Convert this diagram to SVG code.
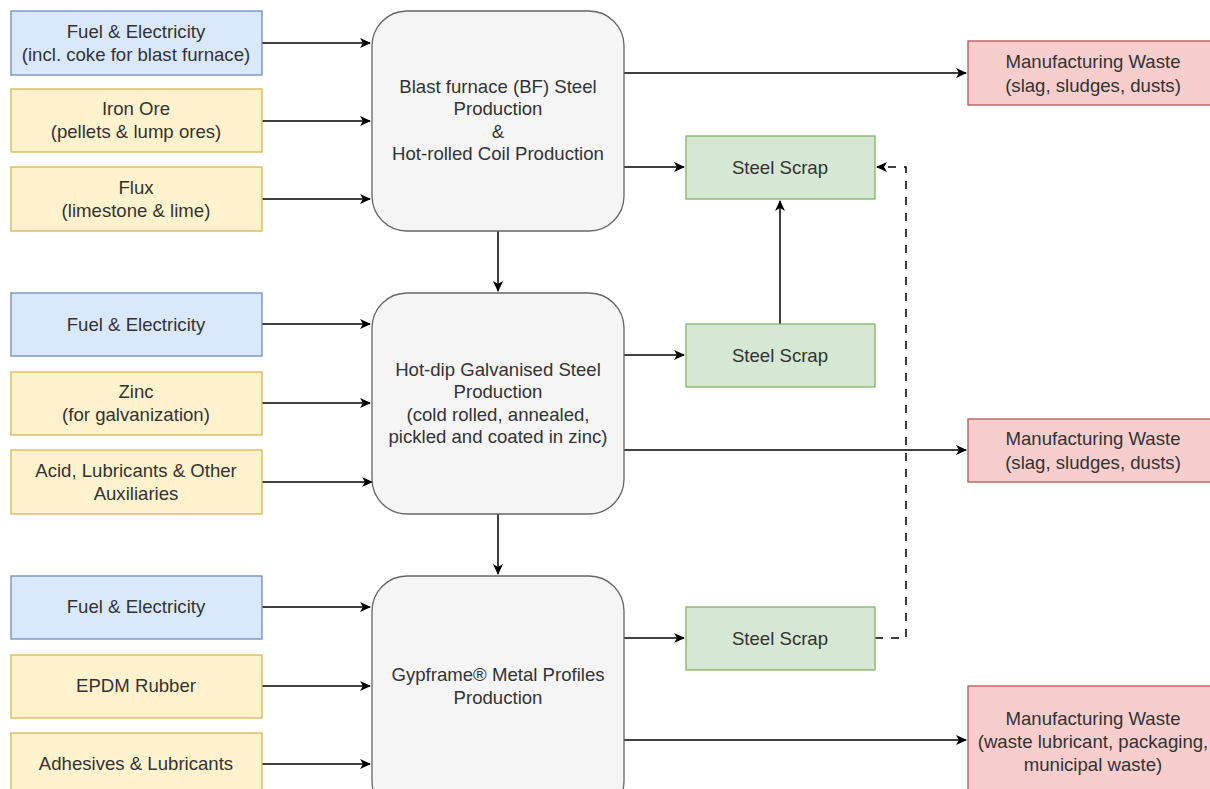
<svg xmlns="http://www.w3.org/2000/svg" width="1210" height="789" viewBox="0 0 1210 789">
<defs>
<marker id="arr" markerWidth="12" markerHeight="10" refX="10" refY="5" orient="auto" markerUnits="userSpaceOnUse">
<path d="M0,0 L11,5 L0,10 L3,5 Z" fill="#000"/>
</marker>
<style>
text{font-family:"Liberation Sans",Arial,sans-serif;font-size:18.6px;fill:#333;text-anchor:middle;dominant-baseline:central}
.blue{fill:#dae8fc;stroke:#6c8ebf;stroke-width:1.3}
.yel{fill:#fff2cc;stroke:#d6b656;stroke-width:1.3}
.grn{fill:#d5e8d4;stroke:#82b366;stroke-width:1.3}
.red{fill:#f8cecc;stroke:#b85450;stroke-width:1.3}
.proc{fill:#f5f5f5;stroke:#666;stroke-width:1.3}
.c{fill:none;stroke:#000;stroke-width:1.5;marker-end:url(#arr)}
.d{stroke-dasharray:8 8}
</style>
</defs>
<rect width="1210" height="789" fill="#fff"/>
<g id="connectors">
<path class="c" d="M262,43 H370"/>
<path class="c" d="M262,121 H370"/>
<path class="c" d="M262,199 H370"/>
<path class="c" d="M262,324 H370"/>
<path class="c" d="M262,403 H370"/>
<path class="c" d="M262,482 H372"/>
<path class="c" d="M262,607 H370"/>
<path class="c" d="M262,686 H370"/>
<path class="c" d="M262,764 H370"/>
<path class="c" d="M624,73 H966"/>
<path class="c" d="M624,167 H684"/>
<path class="c" d="M498,231 V291"/>
<path class="c" d="M624,355 H684"/>
<path class="c" d="M624,450 H966"/>
<path class="c" d="M498,514 V574"/>
<path class="c" d="M624,638 H684"/>
<path class="c" d="M624,740 H966"/>
<path class="c" d="M780,324 V201"/>
<path class="c d" d="M875,638 H906 V167 H877"/>
</g>
<g id="in1"><rect class="blue" x="11" y="11" width="251" height="64"/><text x="136" y="31">Fuel &amp; Electricity</text><text x="136" y="54">(incl. coke for blast furnace)</text></g>
<g id="in2"><rect class="yel" x="11" y="89" width="251" height="63"/><text x="136" y="108">Iron Ore</text><text x="136" y="131">(pellets &amp; lump ores)</text></g>
<g id="in3"><rect class="yel" x="11" y="167" width="251" height="64"/><text x="136" y="187">Flux</text><text x="136" y="210">(limestone &amp; lime)</text></g>
<g id="in4"><rect class="blue" x="11" y="293" width="251" height="63"/><text x="136" y="324">Fuel &amp; Electricity</text></g>
<g id="in5"><rect class="yel" x="11" y="372" width="251" height="63"/><text x="136" y="391">Zinc</text><text x="136" y="414">(for galvanization)</text></g>
<g id="in6"><rect class="yel" x="11" y="450" width="251" height="64"/><text x="136" y="470">Acid, Lubricants &amp; Other</text><text x="136" y="493">Auxiliaries</text></g>
<g id="in7"><rect class="blue" x="11" y="576" width="251" height="63"/><text x="136" y="606">Fuel &amp; Electricity</text></g>
<g id="in8"><rect class="yel" x="11" y="655" width="251" height="63"/><text x="136" y="685">EPDM Rubber</text></g>
<g id="in9"><rect class="yel" x="11" y="733" width="251" height="70"/><text x="136" y="763">Adhesives &amp; Lubricants</text></g>
<g id="p1"><rect class="proc" x="372" y="11" width="252" height="220" rx="35"/><text x="498" y="86">Blast furnace (BF) Steel</text><text x="498" y="108">Production</text><text x="498" y="131">&amp;</text><text x="498" y="153">Hot-rolled Coil Production</text></g>
<g id="p2"><rect class="proc" x="372" y="293" width="252" height="221" rx="35"/><text x="498" y="369">Hot-dip Galvanised Steel</text><text x="498" y="391">Production</text><text x="498" y="414">(cold rolled, annealed,</text><text x="498" y="436">pickled and coated in zinc)</text></g>
<g id="p3"><rect class="proc" x="372" y="576" width="252" height="240" rx="35"/><text x="498" y="674">Gypframe® Metal Profiles</text><text x="498" y="697">Production</text></g>
<g id="s1"><rect class="grn" x="686" y="136" width="189" height="63"/><text x="780" y="167">Steel Scrap</text></g>
<g id="s2"><rect class="grn" x="686" y="324" width="189" height="63"/><text x="780" y="355">Steel Scrap</text></g>
<g id="s3"><rect class="grn" x="686" y="607" width="189" height="63"/><text x="780" y="638">Steel Scrap</text></g>
<g id="w1"><rect class="red" x="968" y="41" width="260" height="64"/><text x="1093" y="61">Manufacturing Waste</text><text x="1093" y="85">(slag, sludges, dusts)</text></g>
<g id="w2"><rect class="red" x="968" y="419" width="260" height="63"/><text x="1093" y="438">Manufacturing Waste</text><text x="1093" y="462">(slag, sludges, dusts)</text></g>
<g id="w3"><rect class="red" x="968" y="686" width="260" height="120"/><text x="1093" y="718">Manufacturing Waste</text><text x="1093" y="741">(waste lubricant, packaging,</text><text x="1093" y="764">municipal waste)</text></g>
</svg>
